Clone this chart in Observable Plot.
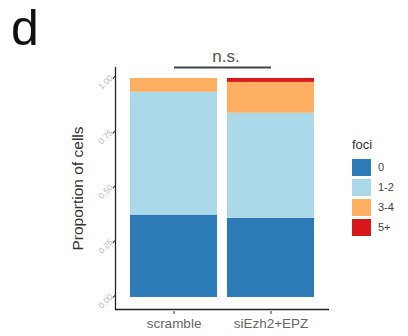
<!DOCTYPE html>
<html>
<head>
<meta charset="utf-8">
<script src="https://cdn.jsdelivr.net/npm/d3@7"></script>
<script src="https://cdn.jsdelivr.net/npm/@observablehq/plot@0.6"></script>
<style>
  html, body { margin: 0; padding: 0; background: #fff; }
  #wrap { position: relative; width: 408px; height: 336px; font-family: "Liberation Sans", Arial, sans-serif; }
  #panel { position: absolute; left: 0; top: 0; }
  #letter { position: absolute; left: 11px; top: 3px; font-size: 50px; color: #111; line-height: 1; }
  #legend { position: absolute; left: 352px; top: 137px; color: #444; }
  #legend .title { font-size: 13px; margin-bottom: 5px; margin-left: 0px; color: #333; }
  #legend .row { display: flex; align-items: center; height: 20px; }
  #legend .sw { width: 19px; height: 17px; margin-right: 7px; }
  #legend .lab { font-size: 11px; }
</style>
</head>
<body>
<div id="wrap">
  <div id="panel"></div>
  <div id="letter">d</div>
  <div id="legend"></div>
</div>
<script>
const categories = ["scramble", "siEzh2+EPZ"];
const fociLevels = ["0", "1-2", "3-4", "5+"];
const fociColors = ["#2c7bb6", "#abd9e9", "#fdae61", "#d7191c"];
const scrambleValues = [0.376, 0.561, 0.063, 0.0];
const siEzh2Values = [0.361, 0.480, 0.141, 0.018];
const yTicks = [0, 0.25, 0.5, 0.75, 1];
const sigLabel = "n.s.";
const legendTitle = "foci";
const yLabel = "Proportion of cells";

const rows = [];
fociLevels.forEach((f, i) => {
  rows.push({cond: categories[0], foci: f, p: scrambleValues[i]});
  rows.push({cond: categories[1], foci: f, p: siEzh2Values[i]});
});
const sig = [{x1: categories[0], x2: categories[1], y: 1.05, label: sigLabel}];

const chart = Plot.plot({
  width: 408,
  height: 336,
  marginLeft: 115,
  marginRight: 79,
  marginTop: 67,
  marginBottom: 27,
  style: {background: "transparent", fontFamily: "Liberation Sans, Arial, sans-serif", overflow: "visible"},
  x: {domain: categories, paddingInner: 0.1, paddingOuter: 0.15, axis: null},
  y: {domain: [-0.055, 1.05], axis: null},
  color: {domain: fociLevels, range: fociColors},
  marks: [
    Plot.barY(rows, {x: "cond", y: "p", fill: "foci", order: fociLevels}),
    Plot.ruleY([-0.055], {stroke: "#222", strokeWidth: 1.3}),
    Plot.frame({anchor: "left", stroke: "#222", strokeWidth: 1.3}),
    Plot.axisY({ticks: yTicks, tickFormat: d3.format(".2f"), tickSize: 3, stroke: "#333",
      fill: "#b8b8b8", fontSize: 8.5, rotate: -45, textAnchor: "end", tickPadding: 1, dy: -2, label: null}),
    Plot.axisX({tickSize: 3, stroke: "#333", fill: "#666", fontSize: 13.5, tickPadding: 4, label: null, dy: 2}),
    Plot.text([yLabel], {frameAnchor: "left", dx: -37, rotate: -90, fontSize: 15.5, fill: "#333", textAnchor: "middle"}),
    Plot.link(sig, {x1: "x1", x2: "x2", y1: "y", y2: "y", stroke: "#444", strokeWidth: 2}),
    Plot.text(sig, {x: (d) => d.x1, y: "y", text: "label", dx: 52, dy: -11, fontSize: 17, fill: "#555"})
  ]
});
document.getElementById("panel").appendChild(chart);

const legend = document.getElementById("legend");
const t = document.createElement("div");
t.className = "title";
t.textContent = legendTitle;
legend.appendChild(t);
fociLevels.forEach((f, i) => {
  const r = document.createElement("div");
  r.className = "row";
  const s = document.createElement("div");
  s.className = "sw";
  s.style.background = fociColors[i];
  const l = document.createElement("div");
  l.className = "lab";
  l.textContent = f;
  r.appendChild(s); r.appendChild(l);
  legend.appendChild(r);
});
</script>
</body>
</html>
